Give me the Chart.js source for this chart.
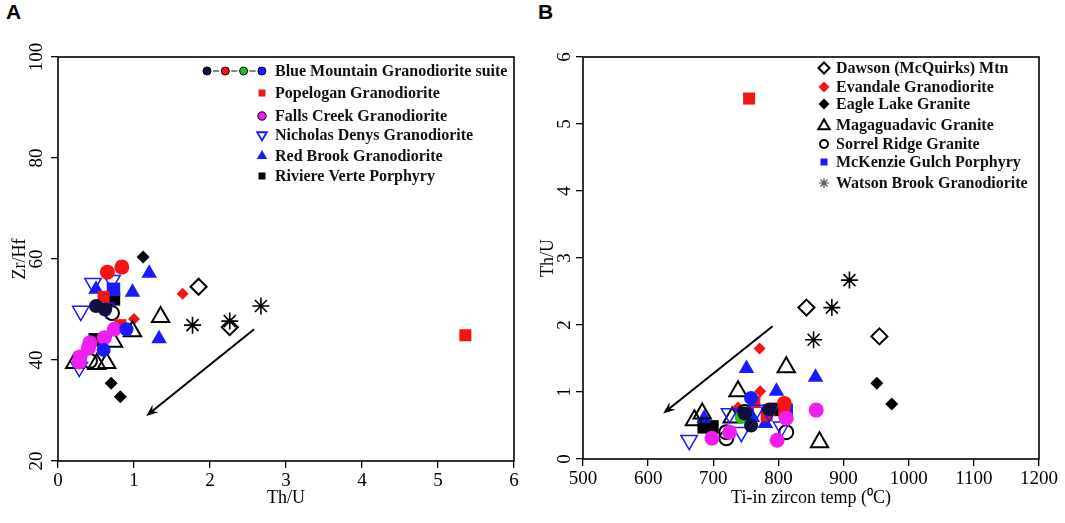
<!DOCTYPE html>
<html lang="en">
<head>
<meta charset="UTF-8">
<title>Zr/Hf and Th/U of zircon</title>
<script src="https://cdn.jsdelivr.net/npm/chart.js"></script>
<style>
    body {
        margin: 0;
        background: #fff;
        width: 1065px;
        height: 523px;
        overflow: hidden;
        position: relative;
    }
    .panel { position: absolute; top: 0; height: 523px; }
    #wrapA { left: 0; width: 530px; }
    #wrapB { left: 530px; width: 535px; }
    .tag {
        position: absolute;
        top: 0;
        font: bold 21px "Liberation Sans", Arial, sans-serif;
    }
</style>
</head>
<body>
<div class="tag" style="left:6px">A</div>
<div class="tag" style="left:538px">B</div>
<div class="panel" id="wrapA"><canvas id="chartA"></canvas></div>
<div class="panel" id="wrapB"><canvas id="chartB"></canvas></div>

<script>
// ---- panel A : Zr/Hf vs Th/U  ([Th/U, Zr/Hf]) ----
const bmNavyA = [[0.50, 50.7], [0.62, 50.0]];
const bmRedA = [[0.65, 57.4], [0.84, 58.4]];
const bmGreenA = [[0.60, 50.1]];
const bmBlueA = [[0.90, 46.1], [0.60, 42.0]];
const popeloganA = [[0.60, 52.5], [0.82, 46.9], [5.36, 44.9]];
const fallsCreekA = [[0.74, 46.1], [0.61, 44.4], [0.42, 43.4], [0.40, 42.4], [0.29, 40.6], [0.28, 39.6]];
const nicholasA = [[0.46, 55.2], [0.71, 55.8], [0.30, 49.7], [0.63, 50.3], [0.28, 38.6]];
const redBrookA = [[1.20, 57.2], [0.50, 54.0], [0.98, 53.4], [1.33, 44.2]];
const riviereA = [[0.73, 52.1], [0.49, 44.0]];
const mckenzieA = [[0.73, 54.0]];
const dawsonA = [[1.85, 54.5], [2.26, 46.5]];
const evandaleA = [[1.64, 53.1], [1.00, 48.1]];
const eagleLakeA = [[1.12, 60.4], [0.70, 35.4], [0.82, 32.7]];
const magaguadavicA = [[1.35, 48.5], [0.98, 45.7], [0.73, 43.6], [0.64, 39.4], [0.51, 39.2], [0.22, 39.4]];
const sorrelA = [[0.71, 49.3], [0.42, 39.8]];
const watsonA = [[2.67, 50.7], [1.77, 46.9], [2.26, 47.7]];
const arrowA = [[2.58, 46.1], [1.16, 28.9]];

// ---- panel B : Th/U vs Ti-in zircon temperature  ([T, Th/U]) ----
const bmNavyB = [[786, 0.74], [758, 0.50], [748, 0.68]];
const bmRedB = [[809, 0.83]];
const bmGreenB = [[743, 0.62]];
const bmBlueB = [[758, 0.91]];
const popeloganB = [[755, 5.38], [763, 0.85], [786, 0.73], [782, 0.65], [809, 0.70]];
const fallsCreekB = [[858, 0.73], [812, 0.61], [798, 0.28], [725, 0.40], [698, 0.31]];
const nicholasB = [[725, 0.68], [766, 0.73], [786, 0.70], [805, 0.48], [743, 0.40], [663, 0.28]];
const redBrookB = [[751, 1.35], [857, 1.22], [797, 1.01], [686, 0.61], [760, 0.62], [780, 0.53]];
const riviereB = [[797, 0.74], [686, 0.48], [698, 0.48]];
const mckenzieB = [[812, 0.73], [752, 0.66]];
const dawsonB = [[843, 2.26], [955, 1.83]];
const evandaleB = [[771, 1.65], [772, 1.01], [738, 0.77]];
const eagleLakeB = [[951, 1.13], [974, 0.82]];
const magaguadavicB = [[812, 1.37], [738, 1.01], [683, 0.68], [671, 0.58], [729, 0.62], [863, 0.25]];
const sorrelB = [[720, 0.40], [720, 0.31], [812, 0.40], [748, 0.70]];
const watsonB = [[909, 2.67], [882, 2.26], [854, 1.78]];
const arrowB = [[791, 1.98], [623, 0.68]];

// legends
const legendA = ['Blue Mountain Granodiorite suite', 'Popelogan Granodiorite', 'Falls Creek Granodiorite',
    'Nicholas Denys Granodiorite', 'Red Brook Granodiorite', 'Riviere Verte Porphyry'];
const legendKeysA = ['bm', 'popelogan', 'fallsCreek', 'nicholas', 'redBrook', 'riviere'];
const legendB = ['Dawson (McQuirks) Mtn', 'Evandale Granodiorite', 'Eagle Lake Granite', 'Magaguadavic Granite',
    'Sorrel Ridge Granite', 'McKenzie Gulch Porphyry', 'Watson Brook Granodiorite'];
const legendKeysB = ['dawson', 'evandale', 'eagleLake', 'magaguadavic', 'sorrel', 'mckenzie', 'watson'];

// axis ticks
const ticksAx = [0, 1, 2, 3, 4, 5, 6];
const ticksAy = [20, 40, 60, 80, 100];
const ticksBx = [500, 600, 700, 800, 900, 1000, 1100, 1200];
const ticksBy = [0, 1, 2, 3, 4, 5, 6];

const NONE = 'rgba(0,0,0,0)';
const RED = '#f51414', BLUE = '#1a1aff', MAGENTA = '#f01ef0', GREEN = '#1fc41f', NAVY = '#10103c';

// marker looks in the plot
const look = {
    bmNavy: { shape: 'circle', r: 7, fill: NAVY, stroke: NAVY, lw: 0 },
    bmRed: { shape: 'circle', r: 7.5, fill: RED, stroke: RED, lw: 0 },
    bmGreen: { shape: 'circle', r: 6.5, fill: GREEN, stroke: GREEN, lw: 0 },
    bmBlue: { shape: 'circle', r: 7, fill: BLUE, stroke: BLUE, lw: 0 },
    popelogan: { shape: 'rect', r: 8.5, fill: RED, stroke: RED, lw: 0 },
    fallsCreek: { shape: 'circle', r: 7.5, fill: MAGENTA, stroke: MAGENTA, lw: 0 },
    nicholas: { shape: 'triangle', r: 9.5, rot: 180, fill: NONE, stroke: BLUE, lw: 1.5 },
    redBrook: { shape: 'triangle', r: 9, fill: BLUE, stroke: BLUE, lw: 0 },
    riviere: { shape: 'rect', r: 9.5, fill: '#000', stroke: '#000', lw: 0 },
    mckenzie: { shape: 'rect', r: 9.5, fill: BLUE, stroke: BLUE, lw: 0 },
    dawson: { shape: 'rectRot', r: 8, fill: NONE, stroke: '#000', lw: 2 },
    evandale: { shape: 'rectRot', r: 6, fill: RED, stroke: RED, lw: 0 },
    eagleLake: { shape: 'rectRot', r: 6.5, fill: '#000', stroke: '#000', lw: 0 },
    magaguadavic: { shape: 'triangle', r: 10, fill: NONE, stroke: '#000', lw: 2 },
    sorrel: { shape: 'circle', r: 7, fill: NONE, stroke: '#000', lw: 2 },
    watson: { shape: 'star', r: 8.5, fill: NONE, stroke: '#000', lw: 1.6 }
};

function series(label, pairs, key) {
    const s = look[key];
    return {
        label: label,
        data: pairs.map(([x, y]) => ({ x: x, y: y })),
        showLine: false,
        pointStyle: s.shape,
        pointRadius: s.r,
        pointRotation: s.rot || 0,
        pointBackgroundColor: s.fill,
        pointBorderColor: s.stroke,
        pointBorderWidth: s.lw
    };
}

// small markers for the in-plot legends
function drawMark(ctx, shape, x, y, r, fill, stroke, lw) {
    ctx.save();
    ctx.beginPath();
    if (shape === 'circle') {
        ctx.arc(x, y, r, 0, Math.PI * 2);
    } else if (shape === 'rect') {
        ctx.rect(x - r, y - r, 2 * r, 2 * r);
    } else if (shape === 'diamond') {
        ctx.moveTo(x, y - r); ctx.lineTo(x + r, y); ctx.lineTo(x, y + r); ctx.lineTo(x - r, y); ctx.closePath();
    } else if (shape === 'tri') {
        ctx.moveTo(x, y - r); ctx.lineTo(x + r * 0.87, y + r * 0.5); ctx.lineTo(x - r * 0.87, y + r * 0.5); ctx.closePath();
    } else if (shape === 'triDown') {
        ctx.moveTo(x, y + r); ctx.lineTo(x + r * 0.87, y - r * 0.5); ctx.lineTo(x - r * 0.87, y - r * 0.5); ctx.closePath();
    } else if (shape === 'star') {
        for (let i = 0; i < 4; i++) {
            const a = i * Math.PI / 4;
            ctx.moveTo(x - Math.cos(a) * r, y - Math.sin(a) * r);
            ctx.lineTo(x + Math.cos(a) * r, y + Math.sin(a) * r);
        }
    }
    if (fill) { ctx.fillStyle = fill; ctx.fill(); }
    if (stroke) { ctx.strokeStyle = stroke; ctx.lineWidth = lw; ctx.stroke(); }
    ctx.restore();
}

function legendMark(ctx, key, x, y) {
    switch (key) {
        case 'bm': {
            const cols = [NAVY, RED, GREEN, BLUE];
            ctx.save();
            ctx.strokeStyle = '#333';
            ctx.lineWidth = 1.2;
            for (let i = 0; i < 3; i++) {
                const cx = x - 55 + i * 18.3;
                ctx.beginPath();
                ctx.moveTo(cx + 6, y);
                ctx.lineTo(cx + 12, y);
                ctx.stroke();
            }
            ctx.restore();
            cols.forEach((c, i) => drawMark(ctx, 'circle', x - 55 + i * 18.3, y, 4, c, '#000', 1));
            break;
        }
        case 'popelogan': drawMark(ctx, 'rect', x, y, 3.5, RED); break;
        case 'fallsCreek': drawMark(ctx, 'circle', x, y, 4.2, MAGENTA, '#000', 1); break;
        case 'nicholas': drawMark(ctx, 'triDown', x, y, 5.5, null, BLUE, 1.8); break;
        case 'redBrook': drawMark(ctx, 'tri', x, y, 6, BLUE); break;
        case 'riviere': drawMark(ctx, 'rect', x, y, 3.5, '#000'); break;
        case 'dawson': drawMark(ctx, 'diamond', x, y, 5.5, null, '#000', 2); break;
        case 'evandale': drawMark(ctx, 'diamond', x, y, 5.5, RED); break;
        case 'eagleLake': drawMark(ctx, 'diamond', x, y, 5.5, '#000'); break;
        case 'magaguadavic': drawMark(ctx, 'tri', x, y + 1, 6.5, null, '#000', 2); break;
        case 'sorrel': drawMark(ctx, 'circle', x, y, 4, null, '#000', 2); break;
        case 'mckenzie': drawMark(ctx, 'rect', x, y, 3.5, BLUE); break;
        case 'watson': drawMark(ctx, 'star', x, y, 5, null, '#555', 1.2); break;
    }
}

function makeLegend(id, labels, keys, rows, markX, textX) {
    return {
        id: id,
        afterDraw(chart) {
            const ctx = chart.ctx;
            ctx.save();
            ctx.font = 'bold 16px "Liberation Serif", "Times New Roman", serif';
            ctx.textBaseline = 'middle';
            labels.forEach((t, i) => {
                legendMark(ctx, keys[i], markX, rows[i]);
                ctx.fillStyle = '#111';
                ctx.fillText(t, textX, rows[i] + 1);
            });
            ctx.restore();
        }
    };
}

function makeArrow(id, arrow) {
    return {
        id: id,
        afterDatasetsDraw(chart) {
            const sx = chart.scales.x, sy = chart.scales.y, ctx = chart.ctx;
            const x1 = sx.getPixelForValue(arrow[0][0]), y1 = sy.getPixelForValue(arrow[0][1]);
            const x2 = sx.getPixelForValue(arrow[1][0]), y2 = sy.getPixelForValue(arrow[1][1]);
            const a = Math.atan2(y2 - y1, x2 - x1);
            ctx.save();
            ctx.strokeStyle = '#000';
            ctx.fillStyle = '#000';
            ctx.lineWidth = 2;
            ctx.beginPath();
            ctx.moveTo(x1, y1);
            ctx.lineTo(x2 - Math.cos(a) * 6, y2 - Math.sin(a) * 6);
            ctx.stroke();
            ctx.beginPath();
            ctx.moveTo(x2, y2);
            ctx.lineTo(x2 - Math.cos(a - 0.38) * 13, y2 - Math.sin(a - 0.38) * 13);
            ctx.lineTo(x2 - Math.cos(a) * 8, y2 - Math.sin(a) * 8);
            ctx.lineTo(x2 - Math.cos(a + 0.38) * 13, y2 - Math.sin(a + 0.38) * 13);
            ctx.closePath();
            ctx.fill();
            ctx.restore();
        }
    };
}

const frame = {
    id: 'frame',
    afterDraw(chart) {
        const a = chart.chartArea, ctx = chart.ctx;
        ctx.save();
        ctx.strokeStyle = '#000';
        ctx.lineWidth = 1.6;
        ctx.strokeRect(a.left, a.top, a.right - a.left, a.bottom - a.top);
        ctx.restore();
    }
};

Chart.defaults.font.family = '"Liberation Serif", "Times New Roman", serif';
Chart.defaults.color = '#000';

function axis(min, max, list, opts) {
    return {
        type: 'linear',
        min: min,
        max: max,
        afterBuildTicks: s => { s.ticks = list.map(v => ({ value: v })); },
        afterFit: s => { if (opts.width) s.width = opts.width; if (opts.height) s.height = opts.height; },
        border: { display: false },
        grid: { display: true, drawOnChartArea: false, drawTicks: true, tickLength: 7, color: '#000', lineWidth: 1.3 },
        ticks: Object.assign({ font: { size: 19 }, color: '#000', callback: v => String(v) }, opts.ticks),
        title: { display: true, text: opts.title, font: { size: 18 }, color: '#000', padding: opts.titlePad }
    };
}

function build(canvasId, datasets, scales, pad, plugins) {
    return new Chart(document.getElementById(canvasId), {
        type: 'scatter',
        data: { datasets: datasets },
        options: {
            responsive: true,
            maintainAspectRatio: false,
            animation: false,
            events: [],
            layout: { padding: pad },
            plugins: { legend: { display: false }, tooltip: { enabled: false } },
            scales: scales
        },
        plugins: plugins
    });
}

build('chartA', [
    series('Blue Mountain (navy)', bmNavyA, 'bmNavy'),
    series('Blue Mountain (red)', bmRedA, 'bmRed'),
    series('Blue Mountain (green)', bmGreenA, 'bmGreen'),
    series('Blue Mountain (blue)', bmBlueA, 'bmBlue'),
    series('Falls Creek Granodiorite', fallsCreekA, 'fallsCreek'),
    series('Popelogan Granodiorite', popeloganA, 'popelogan'),
    series('Nicholas Denys Granodiorite', nicholasA, 'nicholas'),
    series('Sorrel Ridge Granite', sorrelA, 'sorrel'),
    series('Magaguadavic Granite', magaguadavicA, 'magaguadavic'),
    series('Evandale Granodiorite', evandaleA, 'evandale'),
    series('Eagle Lake Granite', eagleLakeA, 'eagleLake'),
    series('Dawson (McQuirks) Mtn', dawsonA, 'dawson'),
    series('Watson Brook Granodiorite', watsonA, 'watson'),
    series('Red Brook Granodiorite', redBrookA, 'redBrook'),
    series('McKenzie Gulch Porphyry', mckenzieA, 'mckenzie'),
    series('Riviere Verte Porphyry', riviereA, 'riviere')
], {
    x: axis(0, 6, ticksAx, { height: 62, title: 'Th/U', titlePad: { top: 0, bottom: 14 }, ticks: { padding: 2 } }),
    y: axis(20, 100, ticksAy, { width: 58, title: 'Zr/Hf', titlePad: { top: 9, bottom: 0 },
        ticks: { minRotation: 90, maxRotation: 90, crossAlign: 'center', padding: 0 } })
}, { left: 0, top: 57, right: 16, bottom: 0 },
   [frame, makeArrow('arrowA', arrowA),
    makeLegend('legendA', legendA, legendKeysA, [71, 93, 116, 135, 156, 176], 262, 275)]);

build('chartB', [
    series('Blue Mountain (navy)', bmNavyB, 'bmNavy'),
    series('Blue Mountain (red)', bmRedB, 'bmRed'),
    series('Blue Mountain (green)', bmGreenB, 'bmGreen'),
    series('Blue Mountain (blue)', bmBlueB, 'bmBlue'),
    series('Falls Creek Granodiorite', fallsCreekB, 'fallsCreek'),
    series('Nicholas Denys Granodiorite', nicholasB, 'nicholas'),
    series('Sorrel Ridge Granite', sorrelB, 'sorrel'),
    series('Popelogan Granodiorite', popeloganB, 'popelogan'),
    series('Magaguadavic Granite', magaguadavicB, 'magaguadavic'),
    series('Evandale Granodiorite', evandaleB, 'evandale'),
    series('Eagle Lake Granite', eagleLakeB, 'eagleLake'),
    series('Dawson (McQuirks) Mtn', dawsonB, 'dawson'),
    series('Watson Brook Granodiorite', watsonB, 'watson'),
    series('Red Brook Granodiorite', redBrookB, 'redBrook'),
    series('McKenzie Gulch Porphyry', mckenzieB, 'mckenzie'),
    series('Riviere Verte Porphyry', riviereB, 'riviere')
], {
    x: axis(500, 1200, ticksBx, { height: 64, title: 'Ti-in zircon temp (\u2070C)', titlePad: { top: 0, bottom: 14 }, ticks: { padding: 2 } }),
    y: axis(0, 6, ticksBy, { width: 53, title: 'Th/U', titlePad: { top: 7, bottom: 0 },
        ticks: { minRotation: 90, maxRotation: 90, crossAlign: 'center', padding: 6 } })
}, { left: 0, top: 57, right: 26, bottom: 0 },
   [frame, makeArrow('arrowB', arrowB),
    makeLegend('legendB', legendB, legendKeysB, [68, 87, 104, 125, 144, 162, 183], 294, 306)]);
</script>
</body>
</html>
